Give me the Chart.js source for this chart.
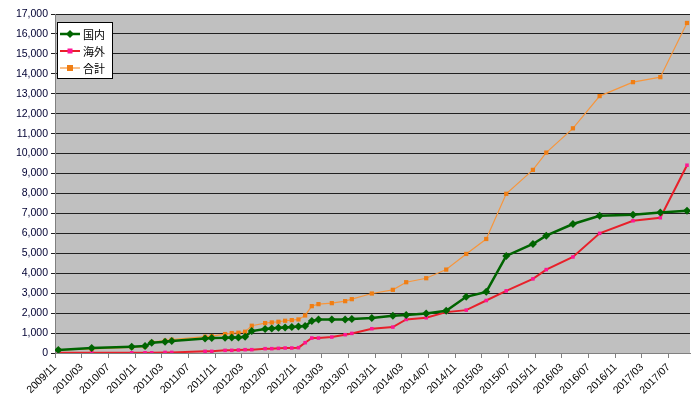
<!DOCTYPE html>
<html><head><meta charset="utf-8">
<script src="https://cdn.jsdelivr.net/npm/chart.js@4/dist/chart.umd.min.js"></script>
<style>
body{margin:0;background:#fff;font-family:"Noto Sans CJK JP",sans-serif;}
#wrap{position:relative;width:700px;height:407px;}
#legend{position:absolute;left:57px;top:22px;width:54px;background:#fff;border:1px solid #000;font-size:11px;padding:2px 0;}
#legend div{display:flex;align-items:center;height:17px;}
#legend canvas{margin:0 3px 0 2px;}
</style></head>
<body><div id="wrap"><canvas id="c" width="700" height="407"></canvas>
<div id="legend"></div></div>
<script>
// month index from 2009/11 (fractional = date within month)
const domesticM = [0.5,5.5,11.5,13.5,14.5,16.5,17.5,22.5,23.5,25.5,26.5,27.5,28.5,29.5,31.5,32.5,33.5,34.5,35.5,36.5,37.5,38.5,39.5,41.5,43.5,44.5,47.5,50.65,52.65,55.65,58.65,61.65,64.65,67.65,71.65,73.65,77.65,81.65,86.65,90.75,94.75];
const domestic = [150,250,317,350,517,567,600,733,750,767,783,783,817,1100,1200,1233,1267,1283,1300,1333,1350,1600,1683,1683,1683,1700,1750,1867,1900,1983,2117,2817,3067,4867,5467,5883,6467,6883,6933,7050,7133];
const overseas = [10,10,10,10,10,30,30,83,83,133,133,150,167,167,217,217,233,250,250,267,517,750,750,800,917,983,1217,1300,1683,1767,2050,2150,2633,3117,3717,4183,4817,6000,6633,6783,9417];
const total = [150,200,283,317,550,617,667,817,850,950,1000,1017,1067,1367,1500,1533,1567,1617,1650,1683,1883,2350,2450,2500,2600,2700,2983,3167,3550,3750,4183,4967,5717,7983,9183,10050,11267,12883,13583,13833,16550];
const names = ['国内','海外','合計'];

const pts = (vals) => vals.map((v, i) => ({x: domesticM[i], y: v}));
const styles = [
  {data: pts(domestic), borderColor:'#006400', backgroundColor:'#006400', borderWidth:2.5, pointStyle:'rectRot', pointRadius:4},
  {data: pts(overseas), borderColor:'#e8202a', backgroundColor:'#ff1493', borderWidth:2, pointStyle:'rect', pointRadius:2.5},
  {data: pts(total), borderColor:'#f7963c', backgroundColor:'#f07e14', borderWidth:1.2, pointStyle:'rect', pointRadius:3},
];
styles.forEach((s, i) => { s.label = names[i]; s.pointBorderWidth = 0; s.tension = 0; });

const plotBg = {
  id: 'plotBg',
  beforeDraw(chart) {
    const a = chart.chartArea, ctx = chart.ctx;
    ctx.save(); ctx.fillStyle = '#c0c0c0';
    ctx.fillRect(a.left, a.top, a.right - a.left, a.bottom - a.top);
    ctx.restore();
  }
};

new Chart(document.getElementById('c'), {
  type: 'line',
  data: {datasets: styles},
  plugins: [plotBg],
  options: {
    responsive: false, animation: false,
    layout: {padding: {top: 14, right: 10, left: 0, bottom: 0}},
    plugins: {legend: {display: false}, tooltip: {enabled: false}},
    scales: {
      x: {
        type: 'linear', min: 0, max: 95.2,
        afterFit: (s) => { s.height = 54; },
        afterBuildTicks: (s) => { s.ticks = []; for (let m = 0; m <= 92; m += 4) s.ticks.push({value: m}); },
        ticks: {
          minRotation: 45, maxRotation: 45, color: '#000', font: {size: 10.5, family: 'Liberation Sans'},
          callback: (v) => { const t = 10 + v; const y = 2009 + Math.floor(t / 12); const mm = t % 12 + 1; return y + '/' + String(mm).padStart(2, '0'); }
        },
        grid: {drawOnChartArea: false, color: '#808080', tickLength: 5},
        border: {color: '#808080'}
      },
      y: {
        min: 0, max: 17000,
        afterFit: (s) => { s.width = 55; },
        ticks: {stepSize: 1000, color: '#000033', font: {size: 10.5, family: 'Liberation Sans'},
          callback: (v) => v.toLocaleString('en-US')},
        grid: {color: '#202020', lineWidth: 1, tickLength: 4},
        border: {color: '#808080'}
      }
    }
  }
});

const leg = document.getElementById('legend');
styles.forEach((s) => {
  const row = document.createElement('div');
  const cv = document.createElement('canvas'); cv.width = 20; cv.height = 10;
  const g = cv.getContext('2d');
  g.strokeStyle = s.borderColor; g.lineWidth = s.borderWidth;
  g.beginPath(); g.moveTo(0, 5); g.lineTo(20, 5); g.stroke();
  g.fillStyle = s.backgroundColor;
  if (s.pointStyle === 'rectRot') { g.beginPath(); g.moveTo(10, 1); g.lineTo(14, 5); g.lineTo(10, 9); g.lineTo(6, 5); g.fill(); }
  else { const r = s.pointRadius; g.fillRect(10 - r, 5 - r, 2 * r, 2 * r); }
  row.appendChild(cv);
  row.appendChild(document.createTextNode(s.label));
  leg.appendChild(row);
});
</script></body></html>
